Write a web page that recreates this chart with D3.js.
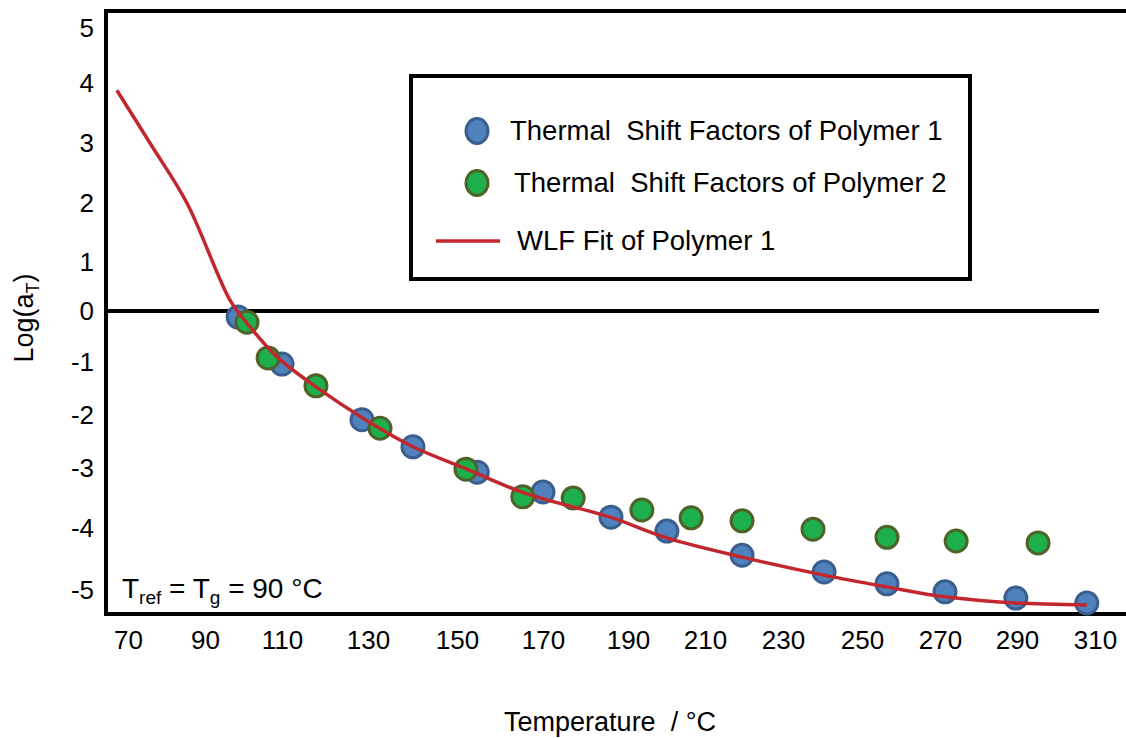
<!DOCTYPE html>
<html>
<head>
<meta charset="utf-8">
<script src="https://cdn.jsdelivr.net/npm/d3@7"></script>
<style>
  body { margin: 0; background: #fff; }
  svg { display: block; }
  text { font-family: "Liberation Sans", Arial, sans-serif; fill: #000; }
</style>
</head>
<body>
<svg id="chart" width="1126" height="738"></svg>
<script>
// Axis tick values
const xTicks = [70, 90, 110, 130, 150, 170, 190, 210, 230, 250, 270, 290, 310];
const yTicks = [5, 4, 3, 2, 1, 0, -1, -2, -3, -4, -5];

// Thermal shift factors, Polymer 1 (temperature in °C, log aT)
const p1Temp  = [98.6, 110, 128.6, 140.1, 154.7, 170, 186, 200.1, 219.5, 240.4, 256.4, 271.3, 289.7, 307.9];
const p1LogAT = [-0.12, -1.04, -2.09, -2.60, -3.07, -3.40, -3.82, -4.05, -4.44, -4.71, -4.90, -5.03, -5.13, -5.21];

// Thermal shift factors, Polymer 2
const p2Temp  = [100.9, 106.4, 117.9, 132.7, 152.1, 165.3, 177.1, 193.6, 206.4, 219.5, 237.6, 256.4, 274.2, 295.4];
const p2LogAT = [-0.22, -0.92, -1.45, -2.25, -3.02, -3.48, -3.50, -3.70, -3.83, -3.88, -4.02, -4.15, -4.21, -4.24];

// WLF fit of Polymer 1
const fitTemp  = [67.1, 75.7, 85.3, 96.5, 100.9, 108.7, 117.9, 129.8, 140.1, 152.3, 165.8, 185.8, 200.1, 219.5, 240.4, 256.4, 271.3, 289.5, 307.9];
const fitLogAT = [3.88, 3.00, 2.00, 0.22, -0.24, -0.90, -1.47, -2.11, -2.60, -3.02, -3.42, -3.82, -4.16, -4.47, -4.76, -4.95, -5.11, -5.21, -5.24];

const legendLabels = ["Thermal  Shift Factors of Polymer 1", "Thermal  Shift Factors of Polymer 2", "WLF Fit of Polymer 1"];

const BLUE = "#4F81BD", BLUE_EDGE = "#3A5F8E";
const GREEN = "#1DAF4B", GREEN_EDGE = "#4F6228";
const RED = "#C1272D";

const svg = d3.select("#chart");

// The printed tick labels are unevenly spaced, so each scale is piecewise
// linear through the label positions.
const xLabelPos = [128, 205, 282, 368, 457, 543, 628, 705, 783, 862, 940, 1017, 1095];
const yLabelPos = [28, 83, 143, 203, 262, 311, 362, 415, 468, 528, 590];
const x = d3.scaleLinear().domain(xTicks).range(xLabelPos);
const y = d3.scaleLinear().domain(yTicks).range(yLabelPos);

const frame = { left: 106, top: 11, bottom: 614, right: 1126 };

// Frame: top border, left axis, bottom axis
svg.append("path")
  .attr("d", `M${frame.right},${frame.top}H${frame.left}V${frame.bottom}H${frame.right}`)
  .attr("fill", "none")
  .attr("stroke", "#000")
  .attr("stroke-width", 4);

// Zero reference line
svg.append("line")
  .attr("x1", frame.left).attr("x2", 1099)
  .attr("y1", y(0)).attr("y2", y(0))
  .attr("stroke", "#000").attr("stroke-width", 4);

// Axes (labels only, plain hyphen for negatives)
const fmt = d => String(d);
const xAxis = svg.append("g")
  .attr("transform", `translate(0,${frame.bottom})`)
  .call(d3.axisBottom(x).tickValues(xTicks).tickSize(0).tickPadding(17).tickFormat(fmt));
xAxis.select(".domain").remove();
xAxis.selectAll("text").style("font-size", "26px")
  .style("font-family", '"Liberation Sans", Arial, sans-serif').attr("fill", "#000");

const yAxis = svg.append("g")
  .attr("transform", `translate(${frame.left},0)`)
  .call(d3.axisLeft(y).tickValues(yTicks).tickSize(0).tickPadding(12).tickFormat(fmt));
yAxis.select(".domain").remove();
yAxis.selectAll("text").style("font-size", "26px")
  .style("font-family", '"Liberation Sans", Arial, sans-serif').attr("fill", "#000");

// Axis titles
svg.append("text")
  .attr("x", 610).attr("y", 731)
  .attr("text-anchor", "middle")
  .style("font-size", "27px")
  .attr("xml:space", "preserve")
  .text("Temperature  / °C");

const yTitle = svg.append("text")
  .attr("transform", "translate(33,318) rotate(-90)")
  .attr("text-anchor", "middle")
  .style("font-size", "27px");
yTitle.append("tspan").text("Log(a");
yTitle.append("tspan").attr("dy", 6).style("font-size", "18px").text("T");
yTitle.append("tspan").attr("dy", -6).text(")");

// Reference temperature note
const note = svg.append("text")
  .attr("x", 122).attr("y", 598)
  .style("font-size", "28px");
note.append("tspan").text("T");
note.append("tspan").attr("dy", 6).style("font-size", "19px").text("ref");
note.append("tspan").attr("dy", -6).text(" = T");
note.append("tspan").attr("dy", 6).style("font-size", "19px").text("g");
note.append("tspan").attr("dy", -6).text(" = 90 °C");

// Data points
const p1 = p1Temp.map((t, i) => ({ t, v: p1LogAT[i] }));
const p2 = p2Temp.map((t, i) => ({ t, v: p2LogAT[i] }));
const fit = fitTemp.map((t, i) => ({ t, v: fitLogAT[i] }));

svg.append("g").selectAll("circle").data(p1).join("circle")
  .attr("cx", d => x(d.t)).attr("cy", d => y(d.v)).attr("r", 11)
  .attr("fill", BLUE).attr("stroke", BLUE_EDGE).attr("stroke-width", 3);

svg.append("g").selectAll("circle").data(p2).join("circle")
  .attr("cx", d => x(d.t)).attr("cy", d => y(d.v)).attr("r", 11)
  .attr("fill", GREEN).attr("stroke", GREEN_EDGE).attr("stroke-width", 3);

// WLF fit curve
svg.append("path")
  .datum(fit)
  .attr("d", d3.line().x(d => x(d.t)).y(d => y(d.v)).curve(d3.curveCatmullRom.alpha(0.5)))
  .attr("fill", "none")
  .attr("stroke", RED)
  .attr("stroke-width", 3.5);

// Legend
const legend = svg.append("g");
legend.append("rect")
  .attr("x", 411).attr("y", 76).attr("width", 559).attr("height", 203)
  .attr("fill", "#fff").attr("stroke", "#000").attr("stroke-width", 4);

const rows = [
  { y: 131, tx: 510, kind: "dot", fill: BLUE, edge: BLUE_EDGE },
  { y: 183, tx: 514, kind: "dot", fill: GREEN, edge: GREEN_EDGE },
  { y: 241, tx: 517, kind: "line" }
];
rows.forEach((r, i) => {
  if (r.kind === "dot") {
    legend.append("ellipse")
      .attr("cx", 477).attr("cy", r.y).attr("rx", 11).attr("ry", 12.5)
      .attr("fill", r.fill).attr("stroke", r.edge).attr("stroke-width", 3);
  } else {
    legend.append("line")
      .attr("x1", 436).attr("x2", 500).attr("y1", r.y).attr("y2", r.y)
      .attr("stroke", RED).attr("stroke-width", 3.5);
  }
  legend.append("text")
    .attr("x", r.tx).attr("y", r.y + 9)
    .attr("xml:space", "preserve")
    .style("font-size", "27.5px")
    .text(legendLabels[i]);
});
</script>
</body>
</html>
